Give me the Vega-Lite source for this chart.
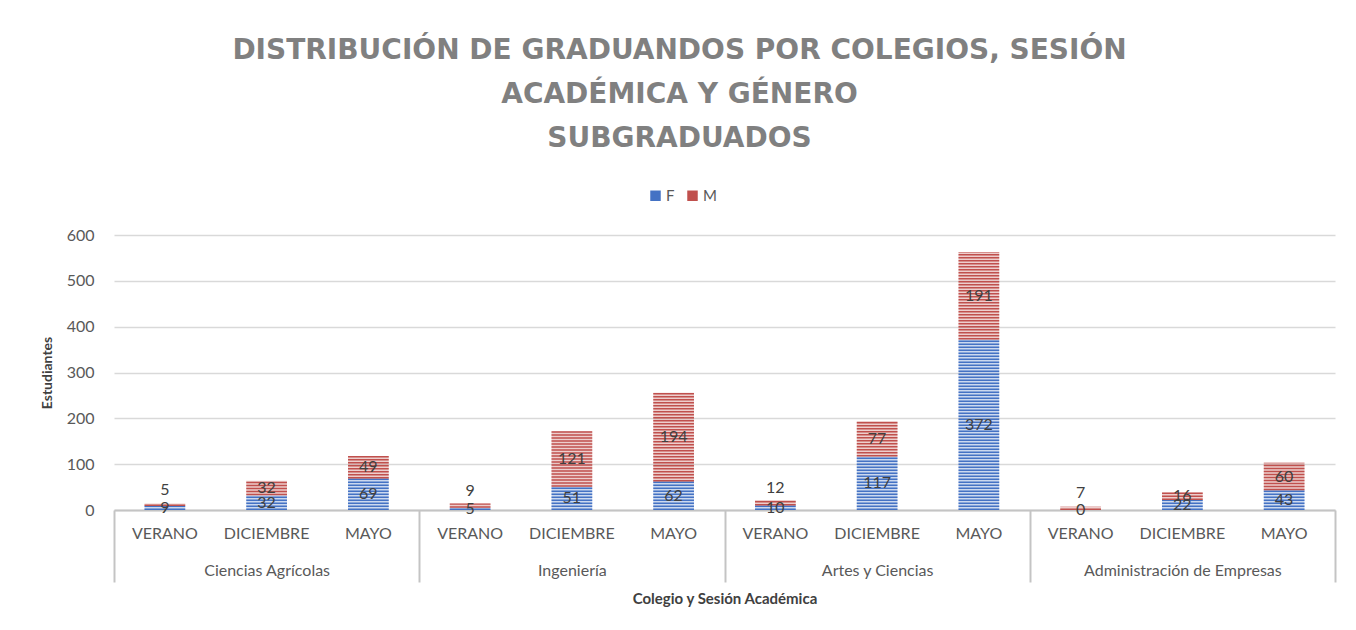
{
  "$schema": "https://vega.github.io/schema/vega-lite/v6.json",
  "width": 1221,
  "height": 275,
  "padding": {"left": 40, "top": 37, "right": 22, "bottom": 5},
  "background": "white",
  "title": {
    "text": ["DISTRIBUCIÓN DE GRADUANDOS POR COLEGIOS, SESIÓN", "ACADÉMICA Y GÉNERO", "SUBGRADUADOS"],
    "font": "DejaVu Sans",
    "fontSize": 28,
    "fontWeight": "bold",
    "color": "#808080",
    "lineHeight": 44,
    "anchor": "middle",
    "frame": "group",
    "dx": -45,
    "offset": 35
  },
  "data": {
    "values": [
      {"college": "Ciencias Agrícolas", "session": "VERANO", "gender": "F", "value": 9},
      {"college": "Ciencias Agrícolas", "session": "VERANO", "gender": "M", "value": 5},
      {"college": "Ciencias Agrícolas", "session": "DICIEMBRE", "gender": "F", "value": 32},
      {"college": "Ciencias Agrícolas", "session": "DICIEMBRE", "gender": "M", "value": 32},
      {"college": "Ciencias Agrícolas", "session": "MAYO", "gender": "F", "value": 69},
      {"college": "Ciencias Agrícolas", "session": "MAYO", "gender": "M", "value": 49},
      {"college": "Ingeniería", "session": "VERANO", "gender": "F", "value": 5},
      {"college": "Ingeniería", "session": "VERANO", "gender": "M", "value": 9},
      {"college": "Ingeniería", "session": "DICIEMBRE", "gender": "F", "value": 51},
      {"college": "Ingeniería", "session": "DICIEMBRE", "gender": "M", "value": 121},
      {"college": "Ingeniería", "session": "MAYO", "gender": "F", "value": 62},
      {"college": "Ingeniería", "session": "MAYO", "gender": "M", "value": 194},
      {"college": "Artes y Ciencias", "session": "VERANO", "gender": "F", "value": 10},
      {"college": "Artes y Ciencias", "session": "VERANO", "gender": "M", "value": 12},
      {"college": "Artes y Ciencias", "session": "DICIEMBRE", "gender": "F", "value": 117},
      {"college": "Artes y Ciencias", "session": "DICIEMBRE", "gender": "M", "value": 77},
      {"college": "Artes y Ciencias", "session": "MAYO", "gender": "F", "value": 372},
      {"college": "Artes y Ciencias", "session": "MAYO", "gender": "M", "value": 191},
      {"college": "Administración de Empresas", "session": "VERANO", "gender": "F", "value": 0},
      {"college": "Administración de Empresas", "session": "VERANO", "gender": "M", "value": 7},
      {"college": "Administración de Empresas", "session": "DICIEMBRE", "gender": "F", "value": 22},
      {"college": "Administración de Empresas", "session": "DICIEMBRE", "gender": "M", "value": 16},
      {"college": "Administración de Empresas", "session": "MAYO", "gender": "F", "value": 43},
      {"college": "Administración de Empresas", "session": "MAYO", "gender": "M", "value": 60}
    ]
  },
  "transform": [
    {"calculate": "datum.college + '|' + datum.session", "as": "key"},
    {"stack": "value", "groupby": ["key"], "sort": [{"field": "gender", "order": "ascending"}], "as": ["v0", "v1"]},
    {"calculate": "(datum.v0 + datum.v1) / 2", "as": "mid"}
  ],
  "layer": [
    {
      "encoding": {
        "x": {
          "field": "key",
          "type": "nominal",
          "sort": null,
          "scale": {"paddingInner": 0.6, "paddingOuter": 0.3},
          "axis": {
            "orient": "bottom",
            "title": null,
            "labelExpr": "split(datum.value, '|')[1]",
            "labelAngle": 0,
            "labelFont": "Lato",
            "labelFontSize": 16,
            "labelColor": "#595959",
            "labelPadding": 15,
            "ticks": false,
            "domainColor": "#c4c4c4",
            "domainWidth": 2,
            "grid": false
          }
        }
      },
      "layer": [
        {
          "mark": {"type": "bar", "fillOpacity": 0.28},
          "encoding": {
            "y": {
              "field": "v0",
              "type": "quantitative",
              "scale": {"domain": [0, 600], "nice": false},
              "axis": {
                "title": "Estudiantes",
                "titleFont": "Lato",
                "titleFontSize": 14,
                "titleFontWeight": "bold",
                "titleColor": "#404040",
                "titlePadding": 12,
                "values": [0, 100, 200, 300, 400, 500, 600],
                "labelFont": "Lato",
                "labelFontSize": 16,
                "labelColor": "#595959",
                "labelPadding": 20,
                "ticks": false,
                "domain": false,
                "gridColor": "#d9d9d9",
                "gridWidth": 1.5
              }
            },
            "y2": {"field": "v1"},
            "color": {
              "field": "gender",
              "type": "nominal",
              "scale": {"domain": ["F", "M"], "range": ["#4472C4", "#C0504D"]},
              "legend": {
                "orient": "none",
                "legendX": 534,
                "legendY": -47,
                "direction": "horizontal",
                "title": null,
                "symbolType": "square",
                "symbolSize": 110,
                "symbolOpacity": 1,
                "symbolStrokeWidth": 0,
                "labelFont": "Lato",
                "labelFontSize": 15,
                "labelColor": "#595959",
                "labelOffset": 3,
                "columnPadding": 10
              }
            }
          }
        },
        {
          "mark": {"type": "rule", "strokeWidth": 40.7, "strokeDash": [1.5, 1.5], "strokeCap": "butt"},
          "encoding": {
            "y": {"field": "v0", "type": "quantitative"},
            "y2": {"field": "v1"},
            "color": {"field": "gender", "type": "nominal"}
          }
        },
        {
          "transform": [{"filter": "!(datum.session == 'VERANO' && datum.gender == 'M')"}],
          "mark": {"type": "text", "font": "Lato", "fontSize": 16, "color": "#404040", "baseline": "middle"},
          "encoding": {
            "y": {"field": "mid", "type": "quantitative"},
            "text": {"field": "value", "type": "quantitative"}
          }
        },
        {
          "transform": [{"filter": "datum.session == 'VERANO' && datum.gender == 'M'"}],
          "mark": {"type": "text", "font": "Lato", "fontSize": 16, "color": "#404040", "baseline": "middle", "dy": -15},
          "encoding": {
            "y": {"field": "mid", "type": "quantitative"},
            "text": {"field": "value", "type": "quantitative"}
          }
        }
      ]
    },
    {
      "transform": [{"filter": "datum.session == 'DICIEMBRE' && datum.gender == 'F'"}],
      "mark": {"type": "rule", "opacity": 0},
      "encoding": {
        "x": {
          "field": "college",
          "type": "nominal",
          "sort": null,
          "scale": {"paddingInner": 0, "paddingOuter": 0},
          "axis": {
            "orient": "bottom",
            "title": "Colegio y Sesión Académica",
            "titleFont": "Lato",
            "titleFontSize": 15,
            "titleFontWeight": "bold",
            "titleColor": "#404040",
            "titlePadding": 8,
            "labelAngle": 0,
            "labelFont": "Lato",
            "labelFontSize": 16,
            "labelColor": "#595959",
            "labelPadding": -20,
            "labelLimit": 400,
            "ticks": true,
            "tickBand": "extent",
            "tickSize": 72,
            "tickWidth": 2,
            "tickColor": "#c4c4c4",
            "domain": false,
            "grid": false
          }
        }
      }
    }
  ],
  "resolve": {"scale": {"x": "independent"}},
  "config": {"view": {"stroke": null}}
}
